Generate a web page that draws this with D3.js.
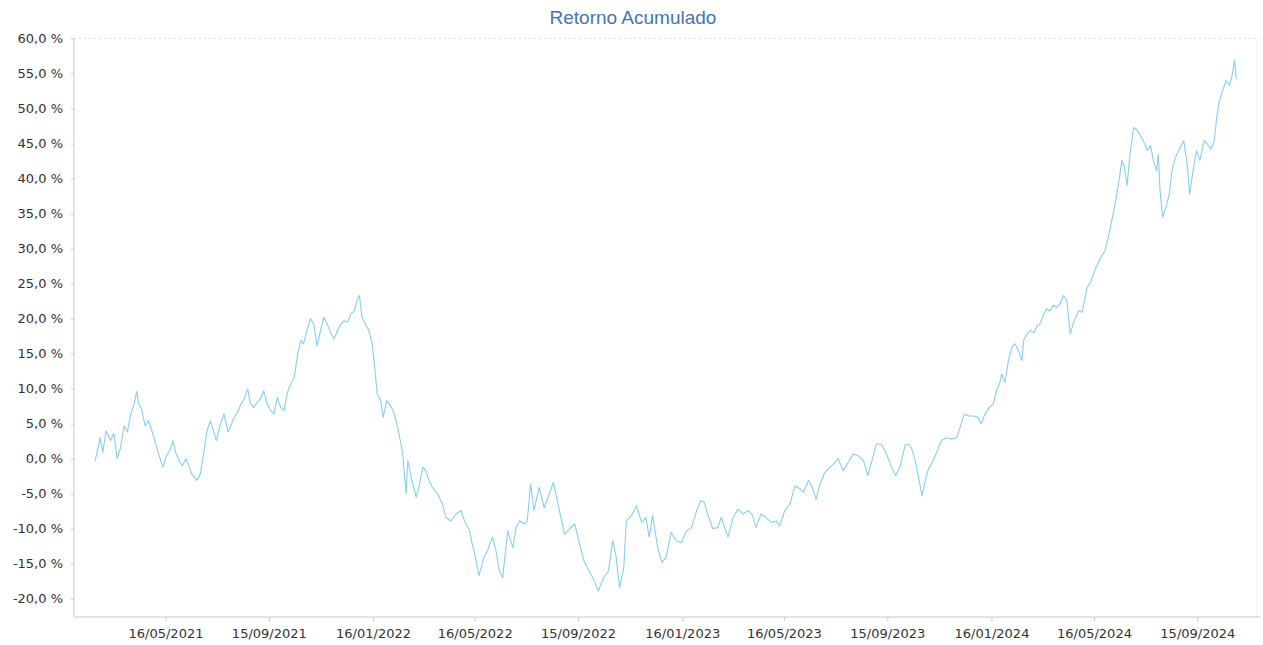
<!DOCTYPE html>
<html>
<head>
<meta charset="utf-8">
<script src="https://cdn.jsdelivr.net/npm/d3@7"></script>
<style>
  html, body { margin: 0; padding: 0; background: #ffffff; }
  svg { display: block; }
</style>
</head>
<body>
<svg id="chart" width="1263" height="645"></svg>
<script>
const title = "Retorno Acumulado";

const dates = [
  "2021-02-22","2021-02-28","2021-03-03","2021-03-07","2021-03-12","2021-03-16","2021-03-20","2021-03-24","2021-03-28","2021-04-01",
  "2021-04-05","2021-04-09","2021-04-12","2021-04-14","2021-04-18","2021-04-22","2021-04-26","2021-04-30","2021-05-04","2021-05-09",
  "2021-05-13","2021-05-17","2021-05-21","2021-05-25","2021-05-28","2021-06-01","2021-06-05","2021-06-09","2021-06-13","2021-06-16",
  "2021-06-22","2021-06-26","2021-06-30","2021-07-04","2021-07-08","2021-07-12","2021-07-15","2021-07-20","2021-07-24","2021-07-29",
  "2021-08-02","2021-08-06","2021-08-09","2021-08-13","2021-08-17","2021-08-21","2021-08-24","2021-08-28","2021-09-01","2021-09-05",
  "2021-09-09","2021-09-13","2021-09-17","2021-09-21","2021-09-25","2021-09-29","2021-10-03","2021-10-07","2021-10-11","2021-10-15",
  "2021-10-19","2021-10-23","2021-10-26","2021-10-30","2021-11-03","2021-11-07","2021-11-11","2021-11-15","2021-11-19","2021-11-23",
  "2021-11-27","2021-12-01","2021-12-05","2021-12-09","2021-12-13","2021-12-17","2021-12-21","2021-12-25","2021-12-28","2021-12-31",
  "2022-01-03","2022-01-07","2022-01-11","2022-01-15","2022-01-18","2022-01-21","2022-01-25","2022-01-28","2022-02-01","2022-02-04",
  "2022-02-07","2022-02-10","2022-02-14","2022-02-18","2022-02-20","2022-02-24","2022-02-26","2022-03-02","2022-03-08","2022-03-11",
  "2022-03-16","2022-03-19","2022-03-23","2022-03-27","2022-04-02","2022-04-08","2022-04-12","2022-04-18","2022-04-24","2022-04-30",
  "2022-05-04","2022-05-10","2022-05-13","2022-05-17","2022-05-21","2022-05-27","2022-05-31","2022-06-06","2022-06-10","2022-06-14",
  "2022-06-18","2022-06-24","2022-06-30","2022-07-04","2022-07-08","2022-07-14","2022-07-17","2022-07-21","2022-07-25","2022-07-31",
  "2022-08-06","2022-08-12","2022-08-17","2022-08-24","2022-08-30","2022-09-05","2022-09-11","2022-09-17","2022-09-22","2022-09-28",
  "2022-10-04","2022-10-09","2022-10-15","2022-10-21","2022-10-26","2022-10-30","2022-11-03","2022-11-08","2022-11-11","2022-11-17",
  "2022-11-23","2022-11-29","2022-12-04","2022-12-08","2022-12-12","2022-12-18","2022-12-23","2022-12-28","2023-01-03","2023-01-09",
  "2023-01-15","2023-01-21","2023-01-27","2023-02-02","2023-02-07","2023-02-11","2023-02-15","2023-02-21","2023-02-27","2023-03-03",
  "2023-03-07","2023-03-11","2023-03-17","2023-03-23","2023-03-29","2023-04-04","2023-04-09","2023-04-13","2023-04-19","2023-04-25",
  "2023-05-01","2023-05-07","2023-05-11","2023-05-17","2023-05-23","2023-05-29","2023-06-04","2023-06-08","2023-06-14","2023-06-18",
  "2023-06-23","2023-06-27","2023-07-03","2023-07-07","2023-07-13","2023-07-19","2023-07-25","2023-07-31","2023-08-06","2023-08-12",
  "2023-08-18","2023-08-23","2023-08-29","2023-09-02","2023-09-08","2023-09-14","2023-09-20","2023-09-25","2023-09-30","2023-10-06",
  "2023-10-10","2023-10-14","2023-10-18","2023-10-22","2023-10-26","2023-10-30","2023-11-02","2023-11-08","2023-11-13","2023-11-18",
  "2023-11-24","2023-11-30","2023-12-06","2023-12-10","2023-12-15","2023-12-20","2023-12-26","2023-12-31","2024-01-04","2024-01-08",
  "2024-01-14","2024-01-18","2024-01-22","2024-01-26","2024-01-28","2024-02-01","2024-02-05","2024-02-09","2024-02-13","2024-02-17",
  "2024-02-21","2024-02-23","2024-02-27","2024-03-02","2024-03-06","2024-03-10","2024-03-13","2024-03-17","2024-03-21","2024-03-25",
  "2024-03-29","2024-04-02","2024-04-06","2024-04-10","2024-04-14","2024-04-18","2024-04-22","2024-04-28","2024-05-02","2024-05-08",
  "2024-05-12","2024-05-17","2024-05-23","2024-05-29","2024-06-02","2024-06-06","2024-06-10","2024-06-14","2024-06-18","2024-06-21",
  "2024-06-24","2024-06-28","2024-07-02","2024-07-06","2024-07-10","2024-07-14","2024-07-18","2024-07-22","2024-07-25","2024-07-29",
  "2024-07-31","2024-08-02","2024-08-05","2024-08-09","2024-08-13","2024-08-16","2024-08-20","2024-08-24","2024-08-30","2024-09-03",
  "2024-09-06","2024-09-10","2024-09-14","2024-09-18","2024-09-23","2024-09-27","2024-10-01","2024-10-05","2024-10-08","2024-10-11",
  "2024-10-15","2024-10-19","2024-10-23","2024-10-26","2024-10-29","2024-10-31"
];

const returns = [
  -0.3, 3.0, 0.9, 4.0, 2.6, 3.6, 0.0, 1.6, 4.7, 3.8,
  6.4, 7.8, 9.6, 8.0, 6.9, 4.7, 5.4, 4.0, 2.3, 0.2,
  -1.2, 0.4, 1.1, 2.6, 0.9, -0.3, -1.0, 0.0, -1.2, -2.2,
  -3.1, -2.2, 0.7, 4.0, 5.4, 3.8, 2.6, 5.0, 6.4, 3.8,
  5.0, 6.1, 6.6, 7.8, 8.5, 10.0, 8.0, 7.3, 8.0, 8.5,
  9.7, 7.8, 6.9, 6.4, 8.8, 7.3, 6.9, 9.5, 10.7, 11.6,
  15.0, 16.9, 16.4, 18.3, 20.0, 19.2, 16.1, 18.3, 20.2, 19.2,
  18.0, 17.1, 18.3, 19.2, 19.7, 19.5, 20.7, 21.1, 22.6, 23.3,
  20.2, 19.2, 18.3, 16.4, 13.0, 9.2, 8.3, 5.9, 8.3, 7.8,
  7.3, 6.4, 4.5, 2.1, 0.7, -5.0, -0.3, -2.7, -5.5, -4.1,
  -1.2, -1.7, -3.1, -4.1, -5.0, -6.5, -8.4, -8.9, -7.9, -7.4,
  -8.9, -10.3, -12.2, -14.1, -16.7, -14.1, -13.1, -11.2, -13.1, -16.0,
  -17.0, -10.3, -12.7, -9.8, -8.9, -9.3, -8.9, -3.6, -7.4, -4.1,
  -7.0, -5.0, -3.4, -7.4, -10.8, -10.0, -9.3, -12.2, -14.6, -16.0,
  -17.4, -18.9, -17.0, -16.0, -11.7, -14.1, -18.4, -15.5, -8.9, -8.1,
  -6.7, -9.1, -8.4, -11.2, -8.1, -12.7, -14.8, -14.1, -10.5, -11.7,
  -12.0, -10.3, -9.8, -7.4, -6.0, -6.2, -7.9, -10.0, -9.8, -8.4,
  -9.8, -11.2, -8.4, -7.2, -7.9, -7.4, -8.1, -9.8, -7.9, -8.4,
  -9.1, -8.9, -9.6, -7.4, -6.5, -3.9, -4.3, -4.8, -3.1, -3.9,
  -5.8, -3.9, -2.0, -1.5, -0.8, 0.0, -1.7, -0.5, 0.7, 0.4,
  -0.3, -2.4, 0.2, 2.1, 2.1, 0.7, -1.2, -2.4, -1.2, 1.9,
  2.1, 1.4, -0.3, -2.7, -5.3, -3.1, -1.7, -0.3, 1.1, 2.6,
  3.0, 2.8, 3.0, 4.5, 6.4, 6.1, 6.1, 5.9, 5.0, 6.3,
  7.4, 7.8, 9.7, 10.9, 12.1, 10.9, 14.0, 15.9, 16.4, 15.4,
  14.0, 16.9, 17.8, 18.3, 18.0, 19.0, 19.2, 20.4, 21.4, 21.1,
  21.9, 21.6, 22.1, 23.3, 22.6, 17.8, 19.5, 21.1, 20.9, 24.5,
  25.2, 26.9, 28.5, 29.7, 31.6, 34.0, 36.4, 39.2, 42.6, 41.6,
  39.0, 44.0, 47.3, 46.9, 46.1, 45.2, 44.0, 44.7, 42.6, 41.1,
  43.5, 38.3, 34.5, 35.9, 37.8, 41.1, 43.0, 44.0, 45.4, 42.1,
  37.8, 41.1, 44.0, 42.6, 45.4, 44.9, 44.2, 45.4, 48.8, 51.1,
  52.6, 54.0, 53.3, 54.7, 56.9, 54.2
];

const xTickDates = ["2021-05-16","2021-09-15","2022-01-16","2022-05-16","2022-09-15","2023-01-16",
                    "2023-05-16","2023-09-15","2024-01-16","2024-05-16","2024-09-15"];
const yTickValues = [-20, -15, -10, -5, 0, 5, 10, 15, 20, 25, 30, 35, 40, 45, 50, 55, 60];
const xDomainDates = ["2021-01-28", "2024-11-28"];
const yDomain = [-22.6, 60];

(function () {
  const parse = d3.timeParse("%Y-%m-%d");
  const n = Math.min(dates.length, returns.length);
  const data = d3.range(n).map(i => ({ date: parse(dates[i]), value: returns[i] }));

  const svg = d3.select("#chart");
  const plotLeft = 74, plotRight = 1260, plotTop = 38.5, plotBottom = 617;

  const x = d3.scaleTime().domain(xDomainDates.map(parse)).range([plotLeft, plotRight]);
  const y = d3.scaleLinear().domain(yDomain).range([plotBottom, plotTop]);

  // title
  svg.append("text")
    .attr("x", 633).attr("y", 24)
    .attr("text-anchor", "middle")
    .attr("font-family", "'Liberation Sans', Arial, sans-serif")
    .attr("font-size", 19)
    .attr("fill", "#4673b6")
    .text(title);

  // top dotted gridline & faint right border
  svg.append("line")
    .attr("x1", plotLeft).attr("x2", plotRight)
    .attr("y1", y(60)).attr("y2", y(60))
    .attr("stroke", "#dddddd").attr("stroke-width", 1)
    .attr("stroke-dasharray", "2,3");
  svg.append("line")
    .attr("x1", plotRight - 3).attr("x2", plotRight - 3)
    .attr("y1", y(60)).attr("y2", plotBottom)
    .attr("stroke", "#f2f2f2").attr("stroke-width", 1);

  const fmtY = v => d3.format(".1f")(v).replace(".", ",").replace("\u2212", "-") + " %";
  const fmtX = d3.timeFormat("%d/%m/%Y");

  // y axis
  const yAxis = svg.append("g")
    .attr("transform", `translate(${plotLeft},0)`)
    .call(d3.axisLeft(y).tickValues(yTickValues).tickFormat(fmtY).tickSize(3).tickPadding(8));
  yAxis.select(".domain").attr("stroke", "#c8c8c8").attr("d", `M0,${plotTop}V${plotBottom}`);
  yAxis.selectAll(".tick line").attr("stroke", "#c8c8c8");
  yAxis.selectAll(".tick text")
    .attr("font-family", "'DejaVu Sans', Verdana, sans-serif")
    .attr("font-size", 13)
    .attr("fill", "#333333");

  // x axis
  const xAxis = svg.append("g")
    .attr("transform", `translate(0,${plotBottom})`)
    .call(d3.axisBottom(x).tickValues(xTickDates.map(parse)).tickFormat(fmtX).tickSize(4).tickPadding(8));
  xAxis.select(".domain").attr("stroke", "#c8c8c8").attr("d", `M${plotLeft},0H${plotRight}`);
  xAxis.selectAll(".tick line").attr("stroke", "#c8c8c8");
  xAxis.selectAll(".tick text")
    .attr("font-family", "'DejaVu Sans', Verdana, sans-serif")
    .attr("font-size", 13)
    .attr("fill", "#333333");

  // line
  const line = d3.line()
    .x(d => x(d.date))
    .y(d => y(d.value));

  svg.append("path")
    .datum(data)
    .attr("fill", "none")
    .attr("stroke", "#86cfee")
    .attr("stroke-width", 1.1)
    .attr("stroke-linejoin", "round")
    .attr("d", line);
})();
</script>
</body>
</html>
